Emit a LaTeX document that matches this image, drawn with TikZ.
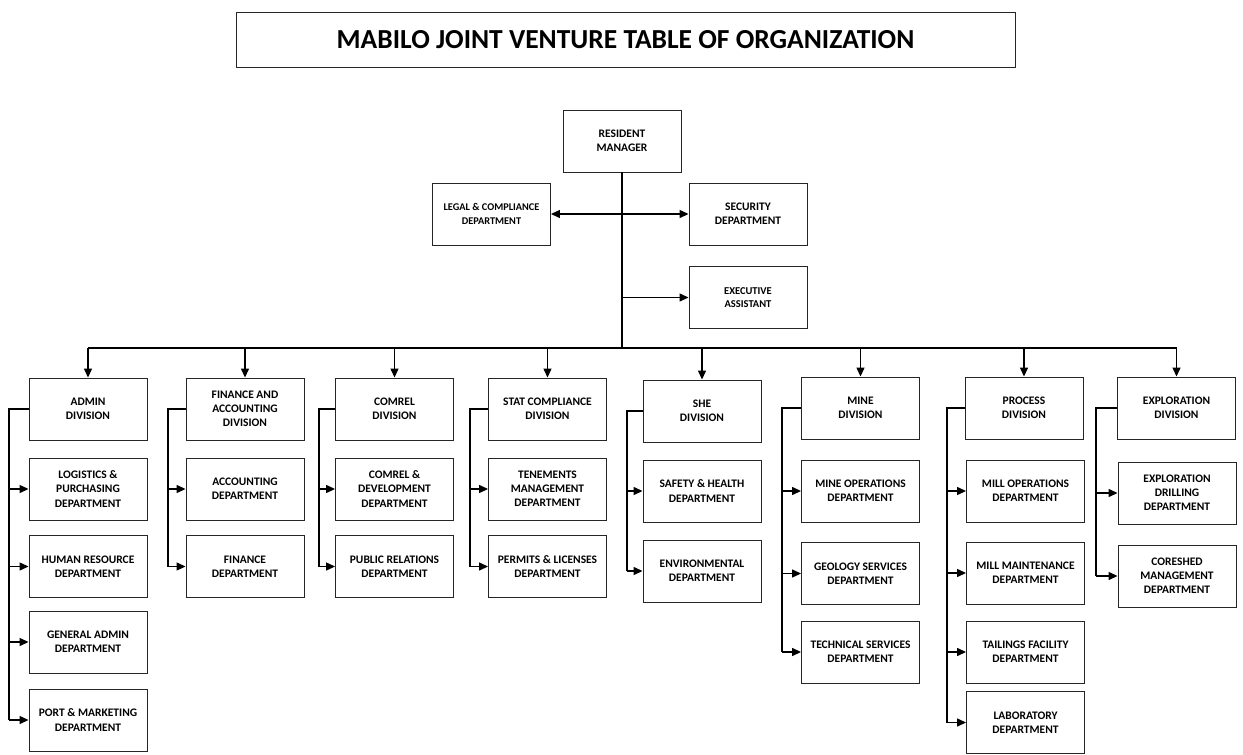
\documentclass[tikz,border=0pt]{standalone}
\usepackage{fontspec}
\setmainfont{Carlito}
\usetikzlibrary{arrows.meta}

\begin{document}
\begin{tikzpicture}[x=1pt,y=-1pt,
    unit/.style={draw=black!85, line width=0.9pt, minimum width=118pt, minimum height=62pt,
        align=center, inner sep=2pt, font=\bfseries\fontsize{11.5}{14.2}\selectfont},
    wire/.style={line width=1.3pt},
    link/.style={wire, -{Triangle[length=9pt,width=8pt]}}]
    \useasboundingbox (0,0) rectangle (1243,755);

    \node[draw=black!85, line width=0.9pt, minimum width=779pt, minimum height=55pt,
        font=\bfseries\fontsize{27.5}{32}\selectfont] (title) at (625.5,39.5)
        {MABILO JOINT VENTURE TABLE OF ORGANIZATION};

    % top management
    \node[unit] (rm) at (622,141) {RESIDENT\\MANAGER};
    \node[unit, font=\bfseries\fontsize{10.3}{13.5}\selectfont] (legal) at (491.5,214) {LEGAL \& COMPLIANCE\\DEPARTMENT};
    \node[unit] (security) at (748,214) {SECURITY\\DEPARTMENT};
    \node[unit, font=\bfseries\fontsize{10.5}{13.5}\selectfont] (exec) at (748,297.5) {EXECUTIVE\\ASSISTANT};
    \coordinate (bus) at (622,348);

    \draw[line width=2.6pt] (rm.south) -- (bus);
    \draw[wire, {Triangle[length=9pt,width=8pt]}-{Triangle[length=9pt,width=8pt]}] (legal.east) -- (security.west);
    \draw[link] (rm.south |- exec) -- (exec.west);

    % divisions
    \node[unit] (admin) at (88,409) {ADMIN\\DIVISION};
    \node[unit] (finance) at (245,409) {FINANCE AND\\ACCOUNTING\\DIVISION};
    \node[unit] (comrel) at (394.5,409) {COMREL\\DIVISION};
    \node[unit] (stat) at (547.5,409) {STAT COMPLIANCE\\DIVISION};
    \node[unit] (she) at (702,411) {SHE\\DIVISION};
    \node[unit] (mine) at (860.5,408) {MINE\\DIVISION};
    \node[unit] (process) at (1024,408) {PROCESS\\DIVISION};
    \node[unit] (explore) at (1176.5,408) {EXPLORATION\\DIVISION};

    \draw[wire] (admin.north |- bus) -- (explore.north |- bus);
    \foreach \dv in {admin,finance,comrel,stat,she,mine,process,explore}
        \draw[link] (\dv.north |- bus) -- (\dv.north);

    % departments
    \node[unit] (logistics) at (88,489) {LOGISTICS \&\\PURCHASING\\DEPARTMENT};
    \node[unit] (hr) at (88,566.5) {HUMAN RESOURCE\\DEPARTMENT};
    \node[unit] (genadmin) at (88,642) {GENERAL ADMIN\\DEPARTMENT};
    \node[unit] (port) at (88,720) {PORT \& MARKETING\\DEPARTMENT};

    \node[unit] (accounting) at (245,489) {ACCOUNTING\\DEPARTMENT};
    \node[unit] (financedept) at (245,566.5) {FINANCE\\DEPARTMENT};

    \node[unit] (comreldev) at (394.5,489) {COMREL \&\\DEVELOPMENT\\DEPARTMENT};
    \node[unit] (pr) at (394.5,566.5) {PUBLIC RELATIONS\\DEPARTMENT};

    \node[unit] (tenements) at (547.5,489) {TENEMENTS\\MANAGEMENT\\DEPARTMENT};
    \node[unit] (permits) at (547.5,566.5) {PERMITS \& LICENSES\\DEPARTMENT};

    \node[unit] (safety) at (702,491) {SAFETY \& HEALTH\\DEPARTMENT};
    \node[unit] (environment) at (702,571) {ENVIRONMENTAL\\DEPARTMENT};

    \node[unit] (mineops) at (860.5,491) {MINE OPERATIONS\\DEPARTMENT};
    \node[unit] (geology) at (860.5,573.5) {GEOLOGY  SERVICES\\DEPARTMENT};
    \node[unit] (technical) at (860.5,652) {TECHNICAL SERVICES\\DEPARTMENT};

    \node[unit] (millops) at (1025.5,491) {MILL OPERATIONS\\DEPARTMENT};
    \node[unit] (millmaint) at (1025.5,573) {MILL MAINTENANCE\\DEPARTMENT};
    \node[unit] (tailings) at (1025.5,652) {TAILINGS FACILITY\\DEPARTMENT};
    \node[unit] (lab) at (1025.5,722.5) {LABORATORY\\DEPARTMENT};

    \node[unit] (drilling) at (1177,493) {EXPLORATION\\DRILLING\\DEPARTMENT};
    \node[unit] (coreshed) at (1177,576) {CORESHED\\MANAGEMENT\\DEPARTMENT};

    % side brackets from each division down to its departments
    \foreach \dv/\bx/\last/\deps in {
        admin/9/port/{logistics,hr,genadmin,port},
        finance/168/financedept/{accounting,financedept},
        comrel/319/pr/{comreldev,pr},
        stat/470/permits/{tenements,permits},
        she/627/environment/{safety,environment},
        mine/782/technical/{mineops,geology,technical},
        process/947/lab/{millops,millmaint,tailings,lab},
        explore/1096/coreshed/{drilling,coreshed}} {
        \coordinate (\dv bar) at (\bx,0);
        \draw[wire] (\dv.west) -- (\dv bar |- \dv.west) -- (\dv bar |- \last.west);
        \foreach \d in \deps
            \draw[link] (\dv bar |- \d.west) -- (\d.west);
    }
\end{tikzpicture}
\end{document}
